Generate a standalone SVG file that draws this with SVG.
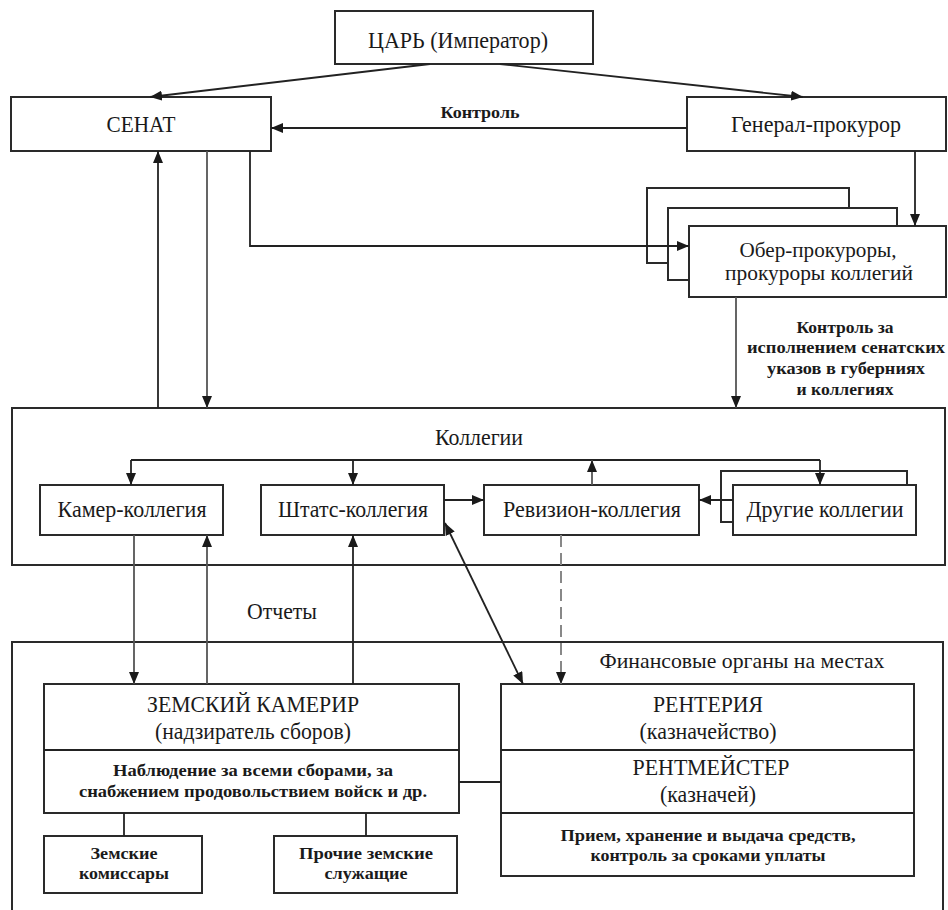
<svg xmlns="http://www.w3.org/2000/svg" width="948" height="910" viewBox="0 0 948 910">
<style>
.box{fill:#fff;stroke:#2a2a2a;stroke-width:2}
.frame{fill:none;stroke:#2a2a2a;stroke-width:2}
.ln{fill:none;stroke:#222;stroke-width:1.8}
.lg{fill:none;stroke:#555;stroke-width:1.8}
.dash{fill:none;stroke:#888;stroke-width:2;stroke-dasharray:12 6}
text{font-family:'Liberation Serif','DejaVu Serif','Noto Serif',serif;fill:#1a1a1a;text-anchor:middle;dominant-baseline:central}
.t{font-size:24px}
.s{font-size:21px}
.b{font-size:16px;font-weight:bold}
</style>
<defs>
<marker id="ah" viewBox="0 0 12 10" refX="12" refY="5" markerWidth="12" markerHeight="10" markerUnits="userSpaceOnUse" orient="auto-start-reverse">
<path d="M0,0 L12,5 L0,10 z" fill="#1a1a1a"/>
</marker>
</defs>
<rect width="948" height="910" fill="#fff"/>

<g id="frames">
<rect class="frame" x="12" y="408" width="933" height="157"/>
<path class="frame" d="M12,912 V642 H943 V912"/>
</g>

<g id="tsar"><rect class="box" x="335" y="11" width="258" height="53"/>
<text class="t" x="458" y="40" textLength="180" lengthAdjust="spacingAndGlyphs">ЦАРЬ (Император)</text></g>

<g id="senat"><rect class="box" x="11" y="97" width="260" height="54"/>
<text class="t" x="141" y="124" textLength="69" lengthAdjust="spacingAndGlyphs">СЕНАТ</text></g>

<g id="genprok"><rect class="box" x="687" y="97" width="259" height="54"/>
<text class="t" x="816" y="124" textLength="170" lengthAdjust="spacingAndGlyphs">Генерал-прокурор</text></g>

<g id="oberprok">
<rect class="box" x="647" y="188" width="202" height="75"/>
<rect class="box" x="668" y="208" width="229" height="72"/>
<rect class="box" x="689" y="226" width="257" height="71"/>
<text class="s" x="818" y="250" textLength="157" lengthAdjust="spacingAndGlyphs">Обер-прокуроры,</text>
<text class="s" x="819" y="273" textLength="188" lengthAdjust="spacingAndGlyphs">прокуроры коллегий</text>
</g>

<g id="kollegii-label"><text class="t" x="479" y="437" textLength="88" lengthAdjust="spacingAndGlyphs">Коллегии</text></g>

<g id="kamer"><rect class="box" x="40" y="485" width="183" height="50"/>
<text class="t" x="132" y="509" textLength="149" lengthAdjust="spacingAndGlyphs">Камер-коллегия</text></g>

<g id="shtats"><rect class="box" x="261" y="485" width="183" height="50"/>
<text class="t" x="353" y="509" textLength="150" lengthAdjust="spacingAndGlyphs">Штатс-коллегия</text></g>

<g id="revizion"><rect class="box" x="484" y="485" width="215" height="50"/>
<text class="t" x="592" y="509" textLength="178" lengthAdjust="spacingAndGlyphs">Ревизион-коллегия</text></g>

<g id="drugie">
<rect class="box" x="721" y="471" width="186" height="51"/>
<rect class="box" x="733" y="485" width="183" height="50"/>
<text class="t" x="825" y="509" textLength="157" lengthAdjust="spacingAndGlyphs">Другие коллегии</text></g>

<g id="finorg-label"><text class="s" x="742" y="661" textLength="285" lengthAdjust="spacingAndGlyphs">Финансовые органы на местах</text></g>

<g id="zemsky">
<rect class="box" x="44" y="684" width="415" height="129"/>
<line class="ln" x1="44" y1="750" x2="459" y2="750"/>
<text class="t" x="253" y="704" textLength="212" lengthAdjust="spacingAndGlyphs">ЗЕМСКИЙ КАМЕРИР</text>
<text class="t" x="253" y="731" textLength="196" lengthAdjust="spacingAndGlyphs">(надзиратель сборов)</text>
<text class="b" x="253" y="770" textLength="280" lengthAdjust="spacingAndGlyphs">Наблюдение за всеми сборами, за</text>
<text class="b" x="253" y="791" textLength="348" lengthAdjust="spacingAndGlyphs">снабжением продовольствием войск и др.</text>
</g>

<g id="komissary"><rect class="box" x="44" y="836" width="158" height="57"/>
<text class="b" x="124" y="853" textLength="67" lengthAdjust="spacingAndGlyphs">Земские</text>
<text class="b" x="124" y="873" textLength="90" lengthAdjust="spacingAndGlyphs">комиссары</text></g>

<g id="prochie"><rect class="box" x="274" y="836" width="183" height="57"/>
<text class="b" x="366" y="853" textLength="134" lengthAdjust="spacingAndGlyphs">Прочие земские</text>
<text class="b" x="366" y="873" textLength="83" lengthAdjust="spacingAndGlyphs">служащие</text></g>

<g id="renteria">
<rect class="box" x="501" y="684" width="413" height="192"/>
<line class="ln" x1="501" y1="750" x2="914" y2="750"/>
<line class="ln" x1="501" y1="813" x2="914" y2="813"/>
<text class="t" x="708" y="704" textLength="110" lengthAdjust="spacingAndGlyphs">РЕНТЕРИЯ</text>
<text class="t" x="708" y="731" textLength="137" lengthAdjust="spacingAndGlyphs">(казначейство)</text>
<text class="t" x="711" y="767" textLength="157" lengthAdjust="spacingAndGlyphs">РЕНТМЕЙСТЕР</text>
<text class="t" x="708" y="794" textLength="96" lengthAdjust="spacingAndGlyphs">(казначей)</text>
<text class="b" x="708" y="835" textLength="295" lengthAdjust="spacingAndGlyphs">Прием, хранение и выдача средств,</text>
<text class="b" x="708" y="855" textLength="235" lengthAdjust="spacingAndGlyphs">контроль за сроками уплаты</text>
</g>

<g id="labels">
<text class="b" x="480" y="112" textLength="79" lengthAdjust="spacingAndGlyphs">Контроль</text>
<text class="b" x="845" y="327" textLength="97" lengthAdjust="spacingAndGlyphs">Контроль за</text>
<text class="b" x="846" y="347" textLength="198" lengthAdjust="spacingAndGlyphs">исполнением сенатских</text>
<text class="b" x="846" y="368" textLength="158" lengthAdjust="spacingAndGlyphs">указов в губерниях</text>
<text class="b" x="845" y="389" textLength="97" lengthAdjust="spacingAndGlyphs">и коллегиях</text>
<text class="t" x="282" y="611" textLength="70" lengthAdjust="spacingAndGlyphs">Отчеты</text>
</g>

<g id="connectors">
<line class="ln" x1="430" y1="64" x2="150" y2="97" marker-end="url(#ah)"/>
<line class="ln" x1="500" y1="64" x2="803" y2="97" marker-end="url(#ah)"/>
<line class="ln" x1="687" y1="128" x2="271" y2="128" marker-end="url(#ah)"/>
<line class="ln" x1="915" y1="151" x2="915" y2="226" marker-end="url(#ah)"/>
<polyline class="ln" points="250,151 250,246 689,246" marker-end="url(#ah)"/>
<line class="lg" x1="207" y1="151" x2="207" y2="408" marker-end="url(#ah)"/>
<line class="ln" x1="158" y1="408" x2="158" y2="151" marker-end="url(#ah)"/>
<line class="lg" x1="736" y1="297" x2="736" y2="408" marker-end="url(#ah)"/>
<line class="ln" x1="131" y1="460" x2="820" y2="460"/>
<line class="ln" x1="131" y1="460" x2="131" y2="485" marker-end="url(#ah)"/>
<line class="ln" x1="353" y1="460" x2="353" y2="485" marker-end="url(#ah)"/>
<line class="ln" x1="820" y1="460" x2="820" y2="485" marker-end="url(#ah)"/>
<line class="lg" x1="592" y1="485" x2="592" y2="460" marker-end="url(#ah)"/>
<line class="ln" x1="444" y1="500" x2="484" y2="500" marker-end="url(#ah)"/>
<line class="ln" x1="733" y1="500" x2="699" y2="500" marker-end="url(#ah)"/>
<line class="lg" x1="134" y1="535" x2="134" y2="684" marker-end="url(#ah)"/>
<line class="lg" x1="207" y1="684" x2="207" y2="535" marker-end="url(#ah)"/>
<line class="ln" x1="353" y1="684" x2="353" y2="535" marker-end="url(#ah)"/>
<line class="ln" x1="445" y1="523" x2="523" y2="684" marker-start="url(#ah)" marker-end="url(#ah)"/>
<line class="dash" x1="561" y1="535" x2="561" y2="684" marker-end="url(#ah)"/>
<line class="ln" x1="459" y1="782" x2="501" y2="782"/>
<line class="ln" x1="124" y1="813" x2="124" y2="836"/>
<line class="ln" x1="366" y1="813" x2="366" y2="836"/>
</g>
</svg>
